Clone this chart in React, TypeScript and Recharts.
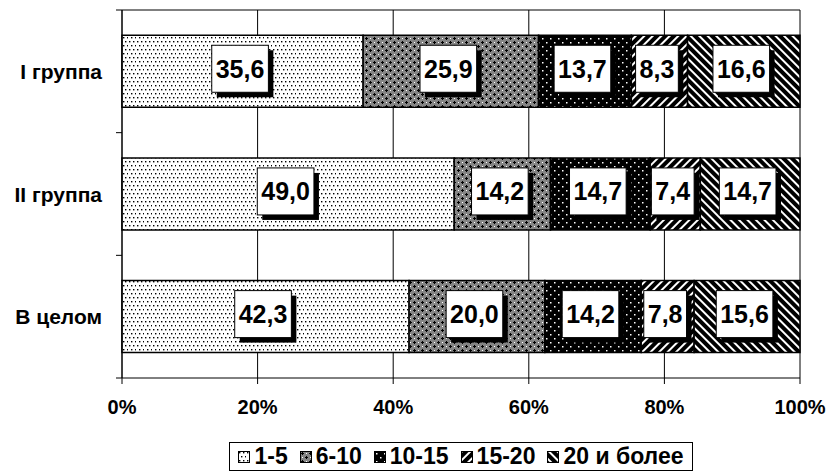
import React from 'react';
import { BarChart, Bar, XAxis, YAxis, CartesianGrid, Legend, LabelList } from 'recharts';

const categories = ['I группа', 'II группа', 'В целом'];
const seriesNames = ['1-5', '6-10', '10-15', '15-20', '20 и более'];
const s1 = [35.6, 49.0, 42.3];
const s2 = [25.9, 14.2, 20.0];
const s3 = [13.7, 14.7, 14.2];
const s4 = [8.3, 7.4, 7.8];
const s5 = [16.6, 14.7, 15.6];
const xTicks = [0, 0.2, 0.4, 0.6, 0.8, 1];

const seriesValues = [s1, s2, s3, s4, s5];
const keys = ['a', 'b', 'c', 'd', 'e'];
const patternIds = ['pDots', 'pGray', 'pBlack', 'pUp', 'pDown'];

const data = categories.map((name, i) => {
  const row: Record<string, string | number> = { name };
  keys.forEach((k, j) => {
    row[k] = seriesValues[j][i];
  });
  return row;
});

const FONT = '"Liberation Sans", Arial, sans-serif';
const CAT_MARGIN = 20;
const TICK_LEN = 6;

const fmt = (v: number) => v.toFixed(1).replace('.', ',');

const textWidth = (s: string, size: number) =>
  s.split('').reduce((w, ch) => w + (ch === ',' ? 0.278 : 0.556) * size, 0);

const BoxLabel = (props: any) => {
  const { x, y, width, height, value } = props;
  const txt = fmt(Number(value));
  const fs = 25;
  const w = textWidth(txt, fs) + 8;
  const h = 47;
  const sh = 5;
  const cx = Number(x) + Number(width) / 2;
  const cy = Number(y) + Number(height) / 2;
  const bx = cx - (w + sh) / 2;
  const by = cy - (h + sh) / 2;
  return (
    <g>
      <rect x={bx + sh} y={by + sh} width={w} height={h} fill="#000" />
      <rect x={bx} y={by} width={w} height={h} fill="#fff" stroke="#000" strokeWidth={1} />
      <text
        x={bx + w / 2}
        y={by + h / 2}
        textAnchor="middle"
        dominantBaseline="central"
        fontFamily={FONT}
        fontWeight="bold"
        fontSize={fs}
        fill="#000"
      >
        {txt}
      </text>
    </g>
  );
};

// category label plus the tick marks that sit between categories
const CatTick = (props: any) => {
  const { x, y, payload, index, visibleTicksCount } = props;
  const off = payload.offset || 0;
  const ax = x + CAT_MARGIN;
  const last = index === visibleTicksCount - 1;
  return (
    <g>
      <line x1={ax - TICK_LEN} x2={ax} y1={y - off} y2={y - off} stroke="#000" />
      {last && <line x1={ax - TICK_LEN} x2={ax} y1={y + off} y2={y + off} stroke="#000" />}
      <text
        x={x}
        y={y}
        textAnchor="end"
        dominantBaseline="central"
        fontFamily={FONT}
        fontWeight="bold"
        fontSize={21}
        fill="#000"
      >
        {payload.value}
      </text>
    </g>
  );
};

const LegendBox = () => (
  <div style={{ width: 832, height: 52, display: 'flex', justifyContent: 'center', paddingLeft: 90, boxSizing: 'border-box' }}>
    <div
      style={{
        marginTop: 20,
        height: 29,
        border: '1px solid #000',
        display: 'flex',
        alignItems: 'center',
        padding: '0 8px',
        boxSizing: 'border-box',
        fontFamily: FONT,
        fontWeight: 'bold',
        fontSize: 23,
        color: '#000',
        whiteSpace: 'nowrap',
      }}
    >
      {seriesNames.map((n, i) => (
        <span key={n} style={{ display: 'flex', alignItems: 'center', marginRight: i < seriesNames.length - 1 ? 12 : 0 }}>
          <svg width={12} height={12} style={{ marginRight: 4 }}>
            <rect x={0.5} y={0.5} width={11} height={11} fill={`url(#${patternIds[i]})`} stroke="#000" />
          </svg>
          {n}
        </span>
      ))}
    </div>
  </div>
);

export default function App() {
  return (
    <div style={{ position: 'absolute', left: 0, top: 0, background: '#fff' }}>
      <BarChart
        width={832}
        height={474}
        data={data}
        layout="vertical"
        stackOffset="expand"
        barCategoryGap="20.6%"
        margin={{ top: 10, right: 32, left: 0, bottom: 0 }}
      >
        <defs>
          <pattern id="pDots" patternUnits="userSpaceOnUse" width={8} height={8}>
            <rect width={8} height={8} fill="#fff" />
            <rect x={1} y={1} width={1.4} height={1.4} fill="#000" />
            <rect x={5} y={1} width={1.4} height={1.4} fill="#000" />
            <rect x={3} y={5} width={1.4} height={1.4} fill="#000" />
            <rect x={7} y={5} width={1.4} height={1.4} fill="#000" />
          </pattern>
          <pattern id="pGray" patternUnits="userSpaceOnUse" width={8} height={8}>
            <rect width={8} height={8} fill="#858585" />
            <rect x={1} y={2} width={3} height={1} fill="#000" />
            <rect x={2} y={1} width={1} height={3} fill="#000" />
            <rect x={5} y={6} width={3} height={1} fill="#000" />
            <rect x={6} y={5} width={1} height={3} fill="#000" />
            <rect x={6} y={2} width={1} height={1} fill="#fff" />
            <rect x={2} y={6} width={1} height={1} fill="#fff" />
          </pattern>
          <pattern id="pBlack" patternUnits="userSpaceOnUse" width={8} height={8}>
            <rect width={8} height={8} fill="#000" />
            <rect x={2} y={2} width={1.5} height={1.5} fill="#fff" />
            <rect x={6} y={6} width={1.5} height={1.5} fill="#fff" />
          </pattern>
          <pattern id="pUp" patternUnits="userSpaceOnUse" width={6} height={6} patternTransform="rotate(45)">
            <rect width={6} height={6} fill="#000" />
            <rect x={0} y={0} width={2} height={6} fill="#fff" />
          </pattern>
          <pattern id="pDown" patternUnits="userSpaceOnUse" width={6} height={6} patternTransform="rotate(-45)">
            <rect width={6} height={6} fill="#000" />
            <rect x={0} y={0} width={2} height={6} fill="#fff" />
          </pattern>
        </defs>
        <CartesianGrid
          stroke="#000"
          strokeOpacity={1}
          horizontalCoordinatesGenerator={({ offset }: any) => [offset.top]}
        />
        <YAxis
          type="category"
          dataKey="name"
          width={122}
          axisLine={{ stroke: '#000' }}
          tickLine={false}
          tickSize={0}
          tickMargin={CAT_MARGIN}
          tick={<CatTick />}
        />
        <XAxis
          type="number"
          domain={[0, 1]}
          ticks={xTicks}
          tickFormatter={(v: number) => `${Math.round(v * 100)}%`}
          height={44}
          tickSize={6}
          tickMargin={16}
          axisLine={{ stroke: '#000' }}
          tickLine={{ stroke: '#000' }}
          tick={{ fill: '#000', fontSize: 20, fontWeight: 'bold', fontFamily: FONT }}
        />
        <Legend verticalAlign="bottom" content={<LegendBox />} wrapperStyle={{ left: 0, bottom: 0, width: 832 }} />
        {keys.map((k, i) => (
          <Bar
            key={k}
            dataKey={k}
            name={seriesNames[i]}
            stackId="s"
            fill={`url(#${patternIds[i]})`}
            stroke="#000"
            strokeWidth={1.5}
            isAnimationActive={false}
          >
            <LabelList dataKey={k} content={<BoxLabel />} />
          </Bar>
        ))}
      </BarChart>
    </div>
  );
}
